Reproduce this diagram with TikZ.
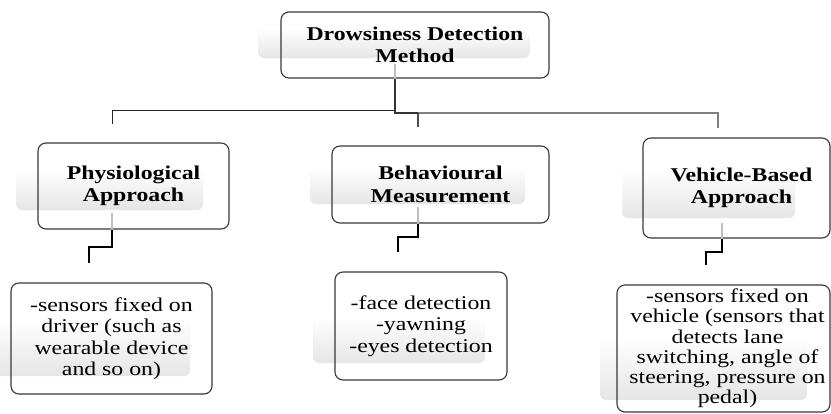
\documentclass[tikz,border=0pt]{standalone}
\usepackage{fontspec}
\setmainfont{Liberation Serif}[FakeStretch=1.22]
\begin{document}
\begin{tikzpicture}[x=1pt,y=-1pt,
  box/.style={draw=black!78, line width=1.1pt, rounded corners=8pt, inner sep=0pt, align=center,
    font=\fontsize{19.5}{21.5}\selectfont},
  head/.style={box, font=\fontsize{19.5}{22.5}\selectfont\bfseries},
  thin/.style={draw=black!85, line width=0.9pt},
  grayline/.style={draw=black!50, line width=1.6pt},
  stepline/.style={draw=black, line width=2pt},
  faint/.style={draw=black!25, line width=1.2pt},
  shadowbox/.style={top color=white, bottom color=black!10, rounded corners=6pt}]
\clip (0,0) rectangle (831,413);
\fill[white] (0,0) rectangle (831,413);
% faint gradient shadows
\shade[shadowbox] (258,28) rectangle (530,58);
\shade[shadowbox] (16,168) rectangle (203,210);
\shade[shadowbox] (-6,318) rectangle (190,376);
\shade[shadowbox] (310,167) rectangle (525,204);
\shade[shadowbox] (313,317) rectangle (485,363);
\shade[shadowbox] (622,168) rectangle (795,218);
\shade[shadowbox] (600,337) rectangle (807,400);
% boxes
\node[head, minimum width=268pt, minimum height=66pt] (top) at (415,45) {Drowsiness Detection\\Method};
\node[head, minimum width=191pt, minimum height=86pt] (phys) at (133.5,186) {Physiological\\Approach};
\node[head, minimum width=217pt, minimum height=77pt] (beh) at (440.5,184.5) {Behavioural\\Measurement};
\node[head, minimum width=187pt, minimum height=100pt] (veh) at (736.5,188) {\hspace*{10pt}Vehicle-Based\\\hspace*{10pt}Approach};
\node[box, minimum width=201pt, minimum height=111pt] (d1) at (111.5,338.5) {-sensors fixed on\\driver (such as\\wearable device\\and so on)};
\node[box, minimum width=172pt, minimum height=108pt] (d2) at (421,326) {-face detection\\-yawning\\-eyes detection};
\node[box, minimum width=213pt, minimum height=127pt, font=\fontsize{19.5}{20.2}\selectfont] (d3) at (723.5,348.5) {\hspace*{8pt}-sensors fixed on\\\hspace*{8pt}vehicle (sensors that\\\hspace*{8pt}detects lane\\\hspace*{8pt}switching, angle of\\\hspace*{8pt}steering, pressure on\\\hspace*{8pt}pedal)};
% junction coordinates
\coordinate (jL) at (395,110);
\coordinate (jM) at (418,113);
\coordinate (jR) at (718,113);
\coordinate (tL) at (112,124);
\coordinate (tM) at (418,127);
\coordinate (tR) at (718,128);
% top connectors
\draw[faint] (top.south -| jL) -- ++(0,-15);
\draw[thin] (jL) -- (tL |- jL) -- (tL);
\draw[grayline] (jM) -- (jR) -- (tR);
\draw[draw=black!70, line width=1.4pt] (jM) -- (tM);
\draw[draw=black!80, line width=1.2pt] (top.south -| jL) -- (jL |- jM) -- (jM);
% lower step connectors
\coordinate (pA) at (112,247);
\coordinate (pB) at (89,263);
\coordinate (bA) at (418,237);
\coordinate (bB) at (398,252);
\coordinate (vA) at (722,252);
\coordinate (vB) at (706,265);
\draw[faint] (phys.south -| pA) -- ++(0,-17);
\draw[faint] (beh.south -| bA) -- ++(0,-17);
\draw[faint] (veh.south -| vA) -- ++(0,-16);
\draw[stepline] (phys.south -| pA) -- (pA) -- (pA -| pB) -- (pB);
\draw[stepline] (beh.south -| bA) -- (bA) -- (bA -| bB) -- (bB);
\draw[stepline] (veh.south -| vA) -- (vA) -- (vA -| vB) -- (vB);
\end{tikzpicture}
\end{document}
